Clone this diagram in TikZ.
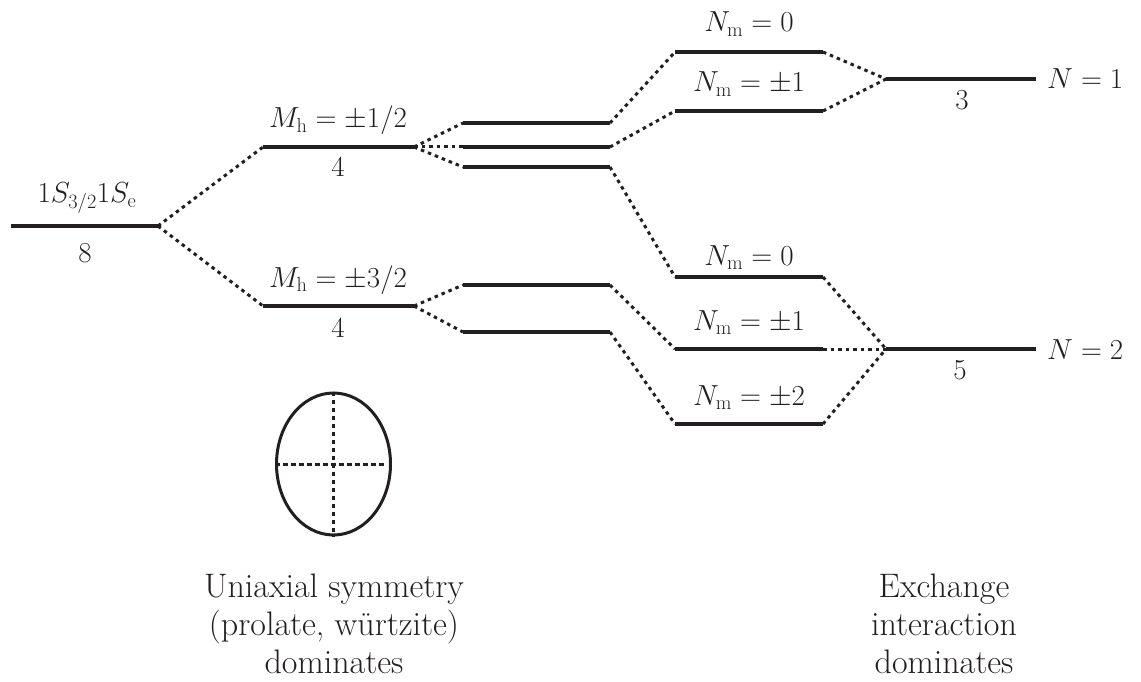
\RequirePackage{fix-cm}
\documentclass[tikz,border=0pt]{standalone}
\usepackage{fontspec}
\usetikzlibrary{shapes.geometric}
\definecolor{ink}{HTML}{231F20}
\begin{document}
\begin{tikzpicture}[x=1pt,y=-1pt,
  lvl/.style={line width=4pt, draw=ink},
  conn/.style={line width=3pt, draw=ink, dash pattern=on 3.5pt off 4pt},
  lab/.style={inner sep=0pt, anchor=base, text=ink, font=\fontsize{29}{34}\selectfont},
  side/.style={inner sep=0pt, anchor=base west, text=ink, font=\fontsize{29}{34}\selectfont},
  captext/.style={inner sep=0pt, anchor=base, text=ink, align=center, font=\fontsize{34}{38}\selectfont},
  shapebox/.style={draw=ink, line width=3pt, ellipse, inner sep=0pt},
  cross/.style={line width=3pt, draw=ink, dash pattern=on 4.5pt off 3.5pt}
]
\useasboundingbox (0,0) rectangle (1141,682);
% level endpoints
\coordinate (L0a) at (11,226);  \coordinate (L0b) at (158,226);
\coordinate (H1a) at (263,147); \coordinate (H1b) at (414,147);
\coordinate (H3a) at (263,306); \coordinate (H3b) at (414,306);
\coordinate (S1a) at (463,123); \coordinate (S1b) at (610,123);
\coordinate (S2a) at (463,147); \coordinate (S2b) at (610,147);
\coordinate (S3a) at (463,167); \coordinate (S3b) at (610,167);
\coordinate (T1a) at (463,285); \coordinate (T1b) at (610,285);
\coordinate (T2a) at (463,332); \coordinate (T2b) at (610,332);
\coordinate (U0a) at (675,52);  \coordinate (U0b) at (823,52);
\coordinate (U1a) at (675,111); \coordinate (U1b) at (823,111);
\coordinate (V0a) at (675,277); \coordinate (V0b) at (823,277);
\coordinate (V1a) at (675,349); \coordinate (V1b) at (823,349);
\coordinate (V2a) at (675,424); \coordinate (V2b) at (823,424);
\coordinate (N1a) at (886,79);  \coordinate (N1b) at (1036,79);
\coordinate (N2a) at (886,349); \coordinate (N2b) at (1036,349);
% levels
\foreach \p in {L0,H1,H3,S1,S2,S3,T1,T2,U0,U1,V0,V1,V2,N1,N2}
  \draw[lvl] (\p a) -- (\p b);
% connectors
\draw[conn] (L0b) -- (H1a);
\draw[conn] (L0b) -- (H3a);
\draw[conn] (H1b) -- (S1a);
\draw[conn] (H1b) -- (S2a);
\draw[conn] (H1b) -- (S3a);
\draw[conn] (H3b) -- (T1a);
\draw[conn] (H3b) -- (T2a);
\draw[conn] (S1b) -- (U0a);
\draw[conn] (S2b) -- (U1a);
\draw[conn] (S3b) -- (V0a);
\draw[conn] (T1b) -- (V1a);
\draw[conn] (T2b) -- (V2a);
\draw[conn] (U0b) -- (N1a);
\draw[conn] (U1b) -- (N1a);
\draw[conn] (V0b) -- (N2a);
\draw[conn] (V1b) -- (N2a);
\draw[conn] (V2b) -- (N2a);
% labels
\node[lab] (l0t) at (87,203) {$1S_{3/2}1S_{\mathrm{e}}$};
\node[lab] (l0d) at (85,262) {8};
\node[lab] (h1t) at (338,128) {$M_{\mathrm{h}} = \pm 1/2$};
\node[lab] (h1d) at (338,177) {4};
\node[lab] (h3t) at (338,287) {$M_{\mathrm{h}} = \pm 3/2$};
\node[lab] (h3d) at (338,337) {4};
\node[lab] (u0t) at (749,32) {$N_{\mathrm{m}} = 0$};
\node[lab] (u1t) at (749,92) {$N_{\mathrm{m}} = \pm 1$};
\node[lab] (v0t) at (749,265) {$N_{\mathrm{m}} = 0$};
\node[lab] (v1t) at (749,330) {$N_{\mathrm{m}} = \pm 1$};
\node[lab] (v2t) at (749,405) {$N_{\mathrm{m}} = \pm 2$};
\node[lab] (n1d) at (962,110) {3};
\node[lab] (n2d) at (960,379) {5};
\node[side] (n1s) at (1047,89) {$N = 1$};
\node[side] (n2s) at (1047,359) {$N = 2$};
% ellipse
\node[shapebox, minimum width=114pt, minimum height=142pt] (ell) at (333.5,464) {};
\draw[cross] (ell.north) -- (ell.south);
\draw[cross] (ell.west) -- ([xshift=-6pt]ell.east);
% captions
\node[captext] (capL) at (334,673) {Uniaxial symmetry\\(prolate, würtzite)\\dominates};
\node[captext] (capR) at (944,673) {Exchange\\interaction\\dominates};
\end{tikzpicture}
\end{document}
